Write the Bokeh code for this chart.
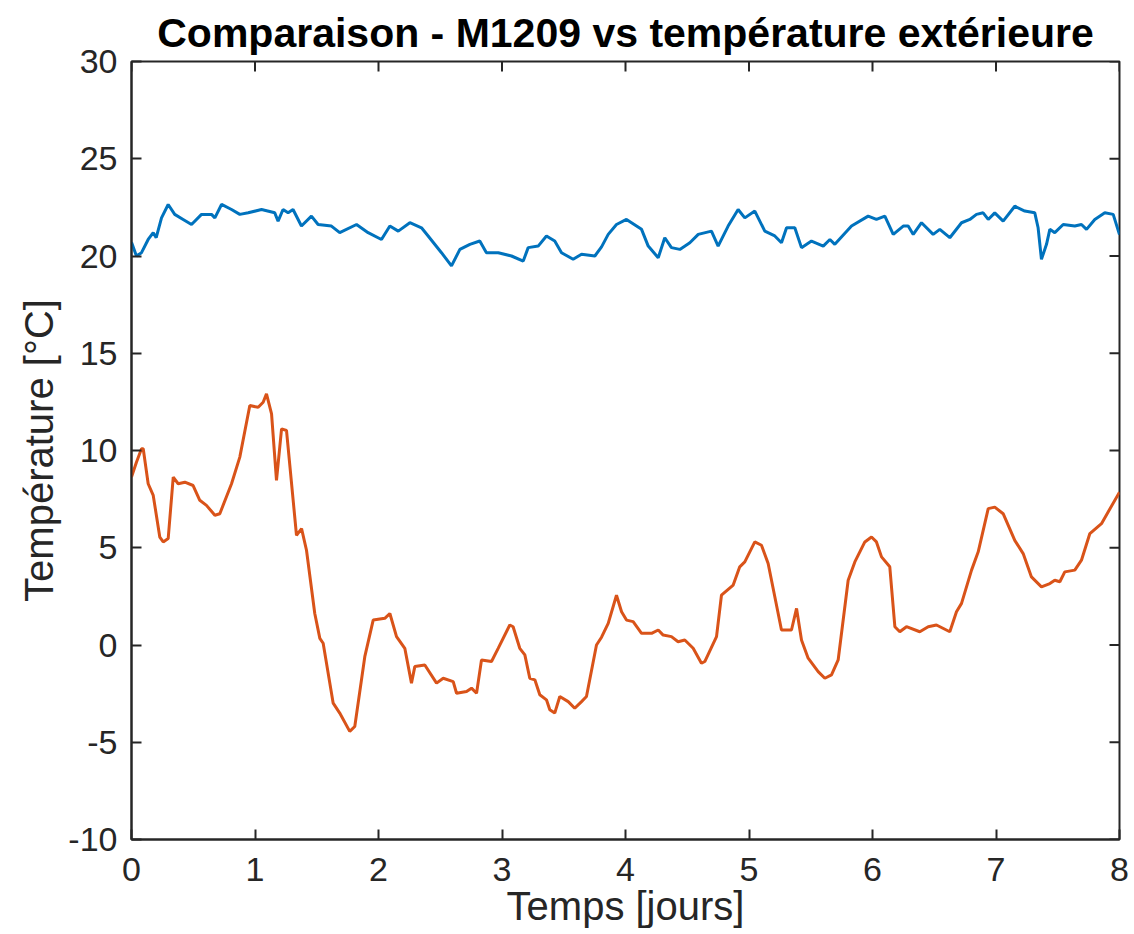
import math
from bokeh.plotting import figure
from bokeh.models import FixedTicker, Range1d
from bokeh.embed import file_html
from bokeh.resources import INLINE

# ---- data (time in days, temperature in degC) ----
t_int = [0.0, 0.04, 0.081, 0.135, 0.176, 0.2, 0.243, 0.297, 0.35, 0.418, 0.486, 0.567, 0.648, 0.675, 0.729,
         0.81, 0.877, 0.945, 1.053, 1.16, 1.187, 1.227, 1.268, 1.308, 1.376, 1.457, 1.511, 1.619, 1.686, 1.822,
         1.916, 2.024, 2.092, 2.16, 2.254, 2.348, 2.402, 2.51, 2.591, 2.659, 2.74, 2.82, 2.874, 2.97, 3.077,
         3.172, 3.212, 3.293, 3.36, 3.427, 3.482, 3.576, 3.644, 3.752, 3.806, 3.86, 3.927, 4.008, 4.13, 4.184,
         4.265, 4.318, 4.372, 4.44, 4.521, 4.589, 4.696, 4.75, 4.831, 4.912, 4.966, 5.047, 5.128, 5.209, 5.263,
         5.304, 5.371, 5.425, 5.506, 5.601, 5.655, 5.695, 5.83, 5.965, 6.032, 6.1, 6.168, 6.249, 6.289, 6.33,
         6.397, 6.491, 6.545, 6.626, 6.721, 6.788, 6.842, 6.896, 6.937, 6.99, 7.058, 7.152, 7.233, 7.314,
         7.341, 7.368, 7.409, 7.436, 7.476, 7.544, 7.638, 7.692, 7.733, 7.8, 7.881, 7.949, 8.0]
temp_int = [20.7, 20.0, 20.17, 20.85, 21.2, 20.94, 21.96, 22.65, 22.14, 21.88, 21.62, 22.14, 22.14, 21.96, 22.65,
            22.39, 22.14, 22.22, 22.39, 22.22, 21.79, 22.39, 22.22, 22.39, 21.54, 22.05, 21.62, 21.54, 21.2, 21.62,
            21.2, 20.85, 21.54, 21.28, 21.71, 21.45, 21.03, 20.17, 19.49, 20.34, 20.6, 20.77, 20.17, 20.17, 20.0,
            19.74, 20.43, 20.51, 21.03, 20.77, 20.17, 19.83, 20.09, 20.0, 20.47, 21.11, 21.62, 21.88, 21.37, 20.51,
            19.91, 20.94, 20.43, 20.34, 20.68, 21.11, 21.28, 20.51, 21.54, 22.39, 21.96, 22.31, 21.28, 21.03, 20.68,
            21.45, 21.45, 20.43, 20.77, 20.51, 20.85, 20.6, 21.54, 22.05, 21.88, 22.05, 21.11, 21.54, 21.54, 21.11,
            21.71, 21.11, 21.37, 20.94, 21.71, 21.88, 22.14, 22.22, 21.88, 22.22, 21.79, 22.56, 22.31, 22.22,
            21.45, 19.83, 20.6, 21.37, 21.2, 21.62, 21.54, 21.62, 21.37, 21.88, 22.22, 22.14, 21.1]

t_ext = [0.0, 0.04, 0.081, 0.095, 0.135, 0.176, 0.229, 0.257, 0.297, 0.338, 0.378, 0.432, 0.499, 0.553, 0.607,
         0.675, 0.715, 0.81, 0.877, 0.958, 1.026, 1.066, 1.093, 1.134, 1.174, 1.215, 1.255, 1.336, 1.377, 1.417,
         1.484, 1.525, 1.552, 1.633, 1.686, 1.767, 1.808, 1.889, 1.957, 2.051, 2.092, 2.146, 2.213, 2.267, 2.294,
         2.375, 2.47, 2.524, 2.605, 2.632, 2.713, 2.753, 2.794, 2.834, 2.915, 2.969, 3.063, 3.09, 3.144, 3.185,
         3.225, 3.266, 3.306, 3.36, 3.387, 3.427, 3.468, 3.536, 3.589, 3.644, 3.684, 3.765, 3.806, 3.86, 3.927,
         3.968, 4.008, 4.062, 4.13, 4.211, 4.265, 4.305, 4.372, 4.426, 4.48, 4.548, 4.615, 4.642, 4.737, 4.777,
         4.872, 4.925, 4.966, 5.047, 5.101, 5.155, 5.209, 5.263, 5.344, 5.385, 5.425, 5.479, 5.56, 5.614, 5.668,
         5.722, 5.803, 5.857, 5.938, 5.992, 6.032, 6.073, 6.14, 6.181, 6.221, 6.275, 6.383, 6.451, 6.518, 6.626,
         6.68, 6.721, 6.802, 6.856, 6.937, 6.99, 7.058, 7.152, 7.22, 7.287, 7.368, 7.436, 7.476, 7.517, 7.557,
         7.638, 7.692, 7.76, 7.854, 8.0]
temp_ext = [8.63, 9.4, 10.09, 10.09, 8.29, 7.69, 5.55, 5.3, 5.47, 8.63, 8.29, 8.37, 8.2, 7.44, 7.18,
            6.67, 6.75, 8.29, 9.66, 12.31, 12.22, 12.48, 12.91, 11.88, 8.46, 11.11, 11.03, 5.64, 5.98, 4.87,
            1.62, 0.34, 0.09, -2.99, -3.5, -4.44, -4.19, -0.6, 1.28, 1.37, 1.62, 0.43, -0.17, -1.96, -1.11,
            -1.03, -1.96, -1.71, -1.88, -2.48, -2.39, -2.22, -2.48, -0.77, -0.85, -0.17, 1.03, 0.94, -0.17, -0.51,
            -1.71, -1.79, -2.56, -2.82, -3.33, -3.5, -2.65, -2.91, -3.25, -2.91, -2.65, 0.0, 0.4, 1.11, 2.56,
            1.71, 1.28, 1.2, 0.6, 0.6, 0.77, 0.51, 0.43, 0.17, 0.26, -0.17, -0.94, -0.85, 0.43, 2.56,
            3.08, 4.02, 4.27, 5.3, 5.13, 4.19, 2.48, 0.77, 0.77, 1.88, 0.26, -0.68, -1.37, -1.71, -1.54,
            -0.77, 3.33, 4.27, 5.3, 5.55, 5.3, 4.53, 4.02, 0.94, 0.68, 0.94, 0.68, 0.94, 1.03, 0.68,
            1.71, 2.14, 3.85, 4.79, 7.01, 7.09, 6.75, 5.38, 4.7, 3.5, 2.99, 3.16, 3.33, 3.25, 3.76,
            3.85, 4.36, 5.73, 6.24, 7.86]

x_ticks = [0, 1, 2, 3, 4, 5, 6, 7, 8]
y_ticks = [-10, -5, 0, 5, 10, 15, 20, 25, 30]
x_min, x_max = 0, 8
y_min, y_max = -10, 30

title_text = "Comparaison - M1209 vs température extérieure"
x_label = "Temps [jours]"
y_label = "Température [°C]"

FONT = "Liberation Sans"
TXT = "#262626"

p = figure(frame_width=988, frame_height=778, output_backend="svg", toolbar_location=None,
           x_range=Range1d(x_min, x_max), y_range=Range1d(y_min, y_max),
           min_border_left=131, min_border_top=61, min_border_right=12, min_border_bottom=80,
           title=title_text)
p.background_fill_color = "white"
p.border_fill_color = "white"
p.grid.visible = False
p.outline_line_color = TXT
p.outline_line_width = 2

p.title.text_font = FONT
p.title.text_font_size = "41px"
p.title.text_font_style = "bold"
p.title.text_color = "black"
p.title.align = "center"
p.title.offset = 0
p.title.standoff = 12

for ax, ticks, lab in ((p.xaxis[0], x_ticks, x_label), (p.yaxis[0], y_ticks, y_label)):
    ax.ticker = FixedTicker(ticks=ticks)
    ax.major_label_overrides = {t: str(t) for t in ticks}
    ax.axis_label = lab
    ax.axis_label_text_font = FONT
    ax.axis_label_text_font_size = "40px"
    ax.axis_label_text_font_style = "normal"
    ax.axis_label_text_color = TXT
    ax.major_label_text_font = FONT
    ax.major_label_text_font_size = "34px"
    ax.major_label_text_color = TXT
    ax.axis_line_color = TXT
    ax.axis_line_width = 2
    ax.major_tick_in = 10
    ax.major_tick_out = 0
    ax.major_tick_line_color = TXT
    ax.major_tick_line_width = 2
    ax.minor_tick_line_color = None

p.xaxis[0].major_label_standoff = 18
p.xaxis[0].axis_label_standoff = 0
p.yaxis[0].major_label_standoff = 14
p.yaxis[0].axis_label_standoff = 4

# mirror ticks on the top and right edges (half of each dash is clipped by the frame)
p.scatter([x_max] * len(y_ticks), y_ticks, marker="dash", size=20, line_color=TXT, line_width=2)
p.scatter(x_ticks, [y_max] * len(x_ticks), marker="dash", size=20, angle=math.pi / 2,
          line_color=TXT, line_width=2)

p.line(t_int, temp_int, line_color="#0072BD", line_width=3)
p.line(t_ext, temp_ext, line_color="#D95319", line_width=3)

open("out.html", "w").write(file_html(p, INLINE))
